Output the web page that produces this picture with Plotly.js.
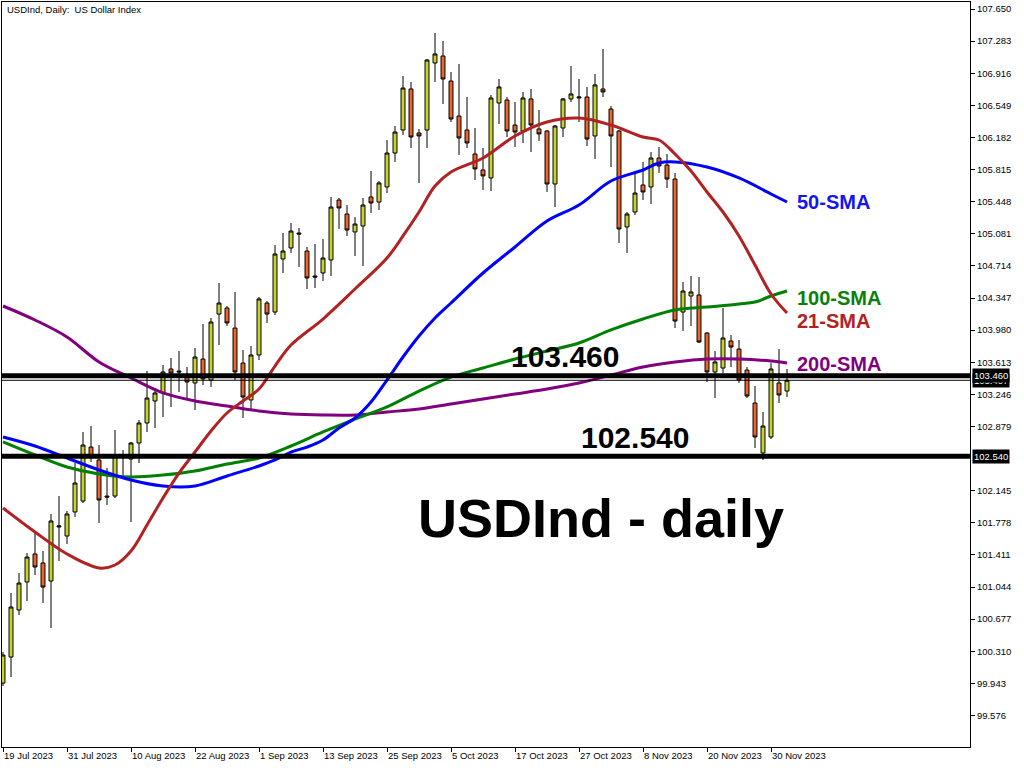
<!DOCTYPE html>
<html><head><meta charset="utf-8">
<script src="https://cdn.plot.ly/plotly-3.0.1.min.js"></script>
<style>html,body{margin:0;padding:0;background:#fff;} #chart{width:1024px;height:768px;}</style>
</head><body><div id="chart"></div>
<script>
// Trading days (bars)
const dates = [
'2023-07-19','2023-07-20','2023-07-21','2023-07-24','2023-07-25','2023-07-26','2023-07-27','2023-07-28','2023-07-31',
'2023-08-01','2023-08-02','2023-08-03','2023-08-04','2023-08-07','2023-08-08','2023-08-09','2023-08-10','2023-08-11','2023-08-14','2023-08-15','2023-08-16','2023-08-17','2023-08-18','2023-08-21','2023-08-22','2023-08-23','2023-08-24','2023-08-25','2023-08-28','2023-08-29','2023-08-30','2023-08-31',
'2023-09-01','2023-09-04','2023-09-05','2023-09-06','2023-09-07','2023-09-08','2023-09-11','2023-09-12','2023-09-13','2023-09-14','2023-09-15','2023-09-18','2023-09-19','2023-09-20','2023-09-21','2023-09-22','2023-09-25','2023-09-26','2023-09-27','2023-09-28','2023-09-29',
'2023-10-02','2023-10-03','2023-10-04','2023-10-05','2023-10-06','2023-10-09','2023-10-10','2023-10-11','2023-10-12','2023-10-13','2023-10-16','2023-10-17','2023-10-18','2023-10-19','2023-10-20','2023-10-23','2023-10-24','2023-10-25','2023-10-26','2023-10-27','2023-10-30','2023-10-31',
'2023-11-01','2023-11-02','2023-11-03','2023-11-06','2023-11-07','2023-11-08','2023-11-09','2023-11-10','2023-11-13','2023-11-14','2023-11-15','2023-11-16','2023-11-17','2023-11-20','2023-11-21','2023-11-22','2023-11-23','2023-11-24','2023-11-27','2023-11-28','2023-11-29','2023-11-30',
'2023-12-01','2023-12-04'];

const open = [99.947,100.244,100.782,101.102,101.422,101.319,101.113,101.730,101.627,101.902,
102.027,102.644,102.496,102.084,102.084,102.530,102.507,102.690,102.919,103.170,
103.262,103.536,103.513,103.444,103.376,103.650,103.410,104.164,104.233,104.004,
103.604,103.182,103.696,104.290,104.187,104.793,104.919,105.090,104.884,104.599,
104.633,104.782,105.467,105.307,105.102,105.170,105.502,105.444,105.616,106.004,
106.267,106.736,106.233,106.267,107.033,107.113,106.827,106.427,106.267,105.993,
105.810,105.719,106.576,106.610,106.324,106.256,106.622,106.279,106.256,105.650,
106.290,106.622,106.633,106.644,106.199,106.736,106.507,106.256,105.159,105.330,
105.639,105.616,105.947,105.867,105.707,104.187,104.370,104.382,103.947,103.502,
103.547,103.856,103.764,103.524,103.147,102.576,102.759,103.376,103.284];
const high = [100.301,100.976,101.204,101.433,101.662,101.456,101.879,102.084,101.913,102.462,
102.816,102.884,102.667,102.404,102.839,102.610,102.702,102.953,103.513,103.319,
103.582,103.662,103.742,103.559,103.776,104.050,104.119,104.519,104.256,104.416,
103.753,103.799,104.359,104.313,104.953,105.090,105.204,105.147,104.930,104.964,
105.022,105.502,105.490,105.410,105.273,105.490,105.799,105.684,106.153,106.313,
106.884,106.816,106.279,107.079,107.376,107.284,106.930,107.022,106.644,106.290,
106.062,106.667,106.850,106.644,106.587,106.702,106.736,106.496,106.267,106.324,
106.633,106.999,106.850,106.759,106.907,107.193,106.542,106.267,105.330,105.799,
105.902,106.016,106.073,105.993,105.776,104.530,104.599,104.587,103.959,103.742,
104.233,103.924,103.867,103.559,103.342,103.044,103.604,103.764,103.536];
const low = [99.913,100.016,100.724,100.884,101.182,100.862,100.576,101.342,101.536,101.844,
102.004,102.473,101.776,101.982,102.062,102.302,101.787,102.462,102.816,102.862,
102.987,103.102,103.273,103.182,103.067,103.353,103.330,103.810,104.027,103.410,
102.976,103.067,103.639,104.062,104.153,104.633,104.862,104.702,104.450,104.462,
104.542,104.599,105.136,105.056,104.827,104.713,105.319,105.353,105.547,105.902,
106.210,106.062,105.662,106.062,106.816,106.564,106.359,105.982,106.062,105.696,
105.582,105.570,106.336,106.187,106.073,106.119,106.016,106.142,105.559,105.387,
106.187,106.587,106.359,106.084,105.936,106.644,105.844,104.976,104.862,105.296,
105.467,105.422,105.776,105.604,104.004,103.970,104.027,103.833,103.387,103.204,
103.490,103.559,103.376,103.204,102.633,102.496,102.736,103.147,103.216];
const close = [100.267,100.816,101.090,101.387,101.273,101.044,101.799,101.742,101.879,102.233,
102.667,102.530,102.039,102.073,102.542,102.553,102.690,102.919,103.204,103.262,
103.502,103.490,103.502,103.387,103.673,103.422,104.073,104.290,104.062,103.502,
103.216,103.696,104.336,104.164,104.850,104.884,105.113,105.079,104.576,104.587,
104.804,105.387,105.376,105.124,105.193,105.410,105.433,105.662,106.004,106.244,
106.747,106.187,106.199,107.067,107.136,106.850,106.393,106.176,106.119,105.822,
105.742,106.633,106.759,106.256,106.244,106.633,106.324,106.222,105.650,106.313,
106.622,106.679,106.644,106.164,106.782,106.702,106.199,105.136,105.307,105.547,
105.559,105.947,105.856,105.707,104.084,104.427,104.416,103.844,103.502,103.616,
103.890,103.787,103.410,103.227,102.759,102.884,103.536,103.239,103.407];

// Moving averages
const sma21Dates = ['2023-07-19','2023-07-25','2023-07-31','2023-08-04','2023-08-08','2023-08-10','2023-08-14','2023-08-16','2023-08-18','2023-08-22','2023-08-24','2023-08-28','2023-08-30','2023-09-01','2023-09-05','2023-09-07','2023-09-13','2023-09-19','2023-09-25','2023-09-27','2023-09-29','2023-10-03','2023-10-05','2023-10-11','2023-10-17','2023-10-23','2023-10-27','2023-11-02','2023-11-08','2023-11-10','2023-11-14','2023-11-16','2023-11-20','2023-11-22','2023-11-24','2023-11-28','2023-11-30','2023-12-04'];
const sma21 = [101.947,101.673,101.422,101.262,101.296,101.456,101.753,102.062,102.347,102.587,102.827,103.033,103.170,103.307,103.570,103.810,104.107,104.450,104.804,105.056,105.330,105.627,105.787,105.947,106.199,106.359,106.404,106.324,106.187,106.153,105.993,105.799,105.559,105.330,105.056,104.724,104.393,104.176];

const sma50Dates = ['2023-07-19','2023-07-25','2023-07-31','2023-08-04','2023-08-10','2023-08-16','2023-08-22','2023-08-28','2023-09-01','2023-09-05','2023-09-07','2023-09-11','2023-09-13','2023-09-15','2023-09-19','2023-09-21','2023-09-25','2023-09-27','2023-09-29','2023-10-03','2023-10-05','2023-10-11','2023-10-17','2023-10-23','2023-10-27','2023-11-02','2023-11-08','2023-11-10','2023-11-14','2023-11-20','2023-11-24','2023-11-30','2023-12-04'];
const sma50 = [102.759,102.656,102.519,102.382,102.267,102.199,102.199,102.313,102.427,102.496,102.587,102.644,102.724,102.862,102.976,103.159,103.410,103.673,103.913,104.119,104.290,104.633,104.930,105.227,105.410,105.684,105.810,105.890,105.902,105.844,105.719,105.536,105.444];

const sma100Dates = ['2023-07-19','2023-07-25','2023-07-31','2023-08-04','2023-08-10','2023-08-16','2023-08-22','2023-08-28','2023-09-01','2023-09-07','2023-09-13','2023-09-19','2023-09-25','2023-09-29','2023-10-05','2023-10-11','2023-10-17','2023-10-23','2023-10-27','2023-11-02','2023-11-08','2023-11-14','2023-11-20','2023-11-24','2023-11-28','2023-11-30','2023-12-04'];
const sma100 = [102.702,102.553,102.416,102.336,102.302,102.324,102.370,102.450,102.519,102.656,102.816,102.964,103.102,103.284,103.444,103.547,103.650,103.742,103.833,103.982,104.107,104.210,104.244,104.279,104.302,104.370,104.427];

const sma200Dates = ['2023-07-19','2023-07-25','2023-07-31','2023-08-04','2023-08-10','2023-08-16','2023-08-22','2023-08-28','2023-09-01','2023-09-07','2023-09-13','2023-09-19','2023-09-25','2023-09-29','2023-10-05','2023-10-11','2023-10-17','2023-10-23','2023-10-27','2023-11-02','2023-11-08','2023-11-14','2023-11-20','2023-11-24','2023-11-30','2023-12-04'];
const sma200 = [104.256,104.096,103.902,103.616,103.433,103.262,103.170,103.113,103.056,103.022,103.010,103.010,103.044,103.079,103.136,103.193,103.250,103.307,103.376,103.467,103.559,103.616,103.650,103.650,103.627,103.604];

// Levels and axis ticks
const resistanceLevel = 103.460;
const supportLevel = 102.540;
const lastPrice = 103.407;
const priceTicks = [107.650,107.283,106.916,106.549,106.182,105.815,105.448,105.081,104.714,104.347,103.980,103.613,103.246,102.879,102.145,101.778,101.411,101.044,100.677,100.310,99.943,99.576];
const tickDates = ['2023-07-19','2023-07-31','2023-08-10','2023-08-22','2023-09-01','2023-09-13','2023-09-25','2023-10-05','2023-10-17','2023-10-27','2023-11-08','2023-11-20','2023-11-30'];
const tickLabels = ['19 Jul 2023','31 Jul 2023','10 Aug 2023','22 Aug 2023','1 Sep 2023','13 Sep 2023','25 Sep 2023','5 Oct 2023','17 Oct 2023','27 Oct 2023','8 Nov 2023','20 Nov 2023','30 Nov 2023'];

const axisFont = {family:'Liberation Sans, Arial, sans-serif', size:9.5, color:'#000'};
const boldFamily = 'Liberation Sans, Arial, sans-serif';

function smaTrace(x, y, color){
  return {type:'scatter', mode:'lines', x:x, y:y, line:{color:color, width:3, shape:'spline', smoothing:1}, hoverinfo:'skip'};
}

const traces = [
  {type:'candlestick', x:dates, open:open, high:high, low:low, close:close,
   increasing:{line:{color:'#000', width:1}, fillcolor:'#C8D42E'},
   decreasing:{line:{color:'#000', width:1}, fillcolor:'#F0642A'},
   whiskerwidth:0, hoverinfo:'skip'},
  smaTrace(sma200Dates, sma200, '#800080'),
  smaTrace(sma100Dates, sma100, '#008000'),
  smaTrace(sma50Dates, sma50, '#0000FF'),
  smaTrace(sma21Dates, sma21, '#B22222')
];

function hline(y, w){
  return {type:'line', xref:'paper', x0:0, x1:1, yref:'y', y0:y, y1:y, line:{color:'#000', width:w}};
}

function txt(x, y, text, size, color, anchor){
  return {xref:'paper', yref:'paper', x:x, y:y, text:text, showarrow:false, xanchor:anchor||'center', yanchor:'middle',
          font:{family:boldFamily, size:size, color:color, weight:'bold'}};
}
function priceBox(y, text){
  return {xref:'paper', x:1, xanchor:'left', xshift:2, yref:'y', y:y, yanchor:'middle', text:text, showarrow:false,
          bgcolor:'#000', borderpad:1, font:{family:axisFont.family, size:9.5, color:'#fff'}};
}

const layout = {
  width:1024, height:768,
  margin:{l:2, r:54, t:2, b:21, pad:0},
  paper_bgcolor:'#fff', plot_bgcolor:'#fff',
  showlegend:false,
  xaxis:{type:'category', categoryorder:'array', categoryarray:dates,
    range:[-0.125,120.875], showgrid:false, zeroline:false,
    showline:true, linecolor:'#000', linewidth:1, mirror:true,
    ticks:'outside', ticklen:4, tickcolor:'#000', tickvals:tickDates, ticktext:tickLabels, tickangle:0,
    ticklabelposition:'outside right', tickfont:axisFont, rangeslider:{visible:false}, fixedrange:true},
  yaxis:{side:'right', range:[99.216,107.730], showgrid:false, zeroline:false,
    showline:true, linecolor:'#000', linewidth:1, mirror:true,
    ticks:'outside', ticklen:4, tickcolor:'#000', tickvals:priceTicks, ticktext:priceTicks.map(v=>v.toFixed(3)),
    tickfont:axisFont, fixedrange:true},
  shapes:[hline(resistanceLevel,5), hline(supportLevel,5), hline(lastPrice,1)],
  annotations:[
    {xref:'paper', yref:'paper', x:0.0031, y:0.9906, xanchor:'left', yanchor:'middle', showarrow:false,
     text:'USDInd, Daily:\u00a0 US Dollar Index', font:axisFont},
    txt(0.5816, 0.5248, resistanceLevel.toFixed(3), 30, '#000'),
    txt(0.6544, 0.4148, supportLevel.toFixed(3), 30, '#000'),
    txt(0.6193, 0.3074, 'USDInd - daily', 54, '#000'),
    txt(0.8192, 0.7315, '50-SMA', 20, '#1515F0', 'left'),
    txt(0.8192, 0.6027, '100-SMA', 20, '#0A800A', 'left'),
    txt(0.8192, 0.5718, '21-SMA', 20, '#B22222', 'left'),
    txt(0.8192, 0.5141, '200-SMA', 20, '#800080', 'left'),
    priceBox(lastPrice, lastPrice.toFixed(3)),
    priceBox(resistanceLevel, resistanceLevel.toFixed(3)),
    priceBox(supportLevel, supportLevel.toFixed(3))
  ]
};

Plotly.newPlot('chart', traces, layout, {displayModeBar:false, staticPlot:true});
</script>
</body></html>
